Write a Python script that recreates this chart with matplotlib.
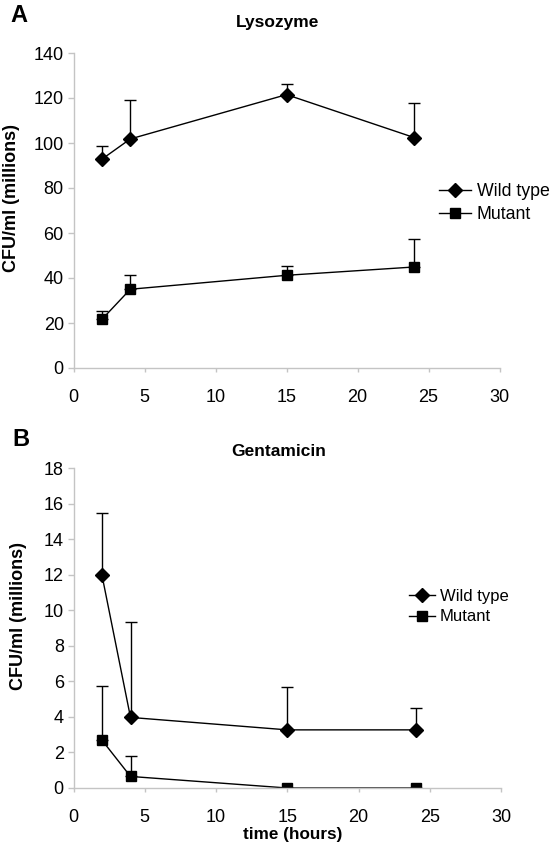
import matplotlib
matplotlib.use("Agg")
import matplotlib.pyplot as plt
from matplotlib.lines import Line2D
import numpy as np

plt.rcParams["font.family"] = ["Liberation Sans", "DejaVu Sans"]

hours = [2, 4, 15, 24]

# Panel A: lysozyme (CFU/ml, millions)
lyso_wt = [92.8, 101.8, 121.5, 102.4]
lyso_wt_err = [5.7, 17.2, 4.7, 15.4]
lyso_mut = [21.6, 35.0, 41.2, 44.9]
lyso_mut_err = [3.9, 6.3, 4.3, 12.4]

# Panel B: gentamicin (CFU/ml, millions)
gent_wt = [11.96, 3.97, 3.27, 3.27]
gent_wt_err = [3.52, 5.35, 2.40, 1.24]
gent_mut = [2.69, 0.65, 0.0, 0.0]
gent_mut_err = [3.02, 1.13, 0.0, 0.0]

series_labels = ["Wild type", "Mutant"]
axis_grey = "#c4c4c4"
styles = [("D", 7.5), ("s", 7)]


def draw_panel(ax, wt, wt_err, mut, mut_err, ymax, ystep):
    for vals, err, (marker, ms) in [(wt, wt_err, styles[0]), (mut, mut_err, styles[1])]:
        ax.errorbar(hours, vals, yerr=[np.zeros(len(err)), err],
                    color="black", lw=1, marker=marker, ms=ms,
                    capsize=4, capthick=1, elinewidth=1)
    ax.set_xlim(0, 30)
    ax.set_ylim(0, ymax)
    ax.set_xticks(range(0, 31, 5))
    ax.set_yticks(np.arange(0, ymax + 0.1, ystep))
    for side in ["top", "right"]:
        ax.spines[side].set_visible(False)
    for side in ["left", "bottom"]:
        ax.spines[side].set_color(axis_grey)
        ax.spines[side].set_linewidth(1)
    ax.tick_params(axis="both", colors=axis_grey, labelcolor="black",
                   labelsize=13, width=1, direction="out")
    ax.tick_params(axis="y", length=4, pad=3)
    ax.tick_params(axis="x", length=3, pad=12)


def add_legend(ax, anchor, size, hlen):
    handles = [Line2D([], [], color="black", lw=1, marker=m, ms=s) for m, s in styles]
    ax.legend(handles, series_labels, loc="center left", bbox_to_anchor=anchor,
              frameon=False, fontsize=size, borderpad=0, borderaxespad=0,
              handlelength=hlen, handletextpad=0.3, labelspacing=0.35)


W, H = 555, 849
fig = plt.figure(figsize=(W / 100, H / 100), dpi=100)

ax1 = fig.add_axes([73.5 / W, 1 - 368 / H, 426 / W, 315 / H])
draw_panel(ax1, lyso_wt, lyso_wt_err, lyso_mut, lyso_mut_err, 140, 20)
add_legend(ax1, (0.859, 0.524), 12.8, 1.8)

ax2 = fig.add_axes([73.5 / W, 1 - 788 / H, 427.5 / W, 320 / H])
draw_panel(ax2, gent_wt, gent_wt_err, gent_mut, gent_mut_err, 18, 2)
add_legend(ax2, (0.785, 0.567), 12, 1.55)

# titles, axis labels and panel letters
fig.text(278 / W, 1 - 23 / H, "Lysozyme", fontsize=12.5, fontweight="bold",
         ha="center", va="center")
fig.text(279 / W, 1 - 451 / H, "Gentamicin", fontsize=12.5, fontweight="bold",
         ha="center", va="center")
fig.text(12 / W, 1 - 198 / H, "CFU/ml (millions)", fontsize=13, fontweight="bold",
         rotation=90, ha="center", va="center")
fig.text(18.5 / W, 1 - 616 / H, "CFU/ml (millions)", fontsize=13, fontweight="bold",
         rotation=90, ha="center", va="center")
fig.text(293 / W, 1 - 835 / H, "time (hours)", fontsize=12.3, fontweight="bold",
         ha="center", va="center")
fig.text(10 / W, 1 - 16 / H, "A", fontsize=17, fontweight="bold", va="center")
fig.text(12 / W, 1 - 439 / H, "B", fontsize=17, fontweight="bold", va="center")

fig.savefig("out.png", dpi=100, facecolor="white")
